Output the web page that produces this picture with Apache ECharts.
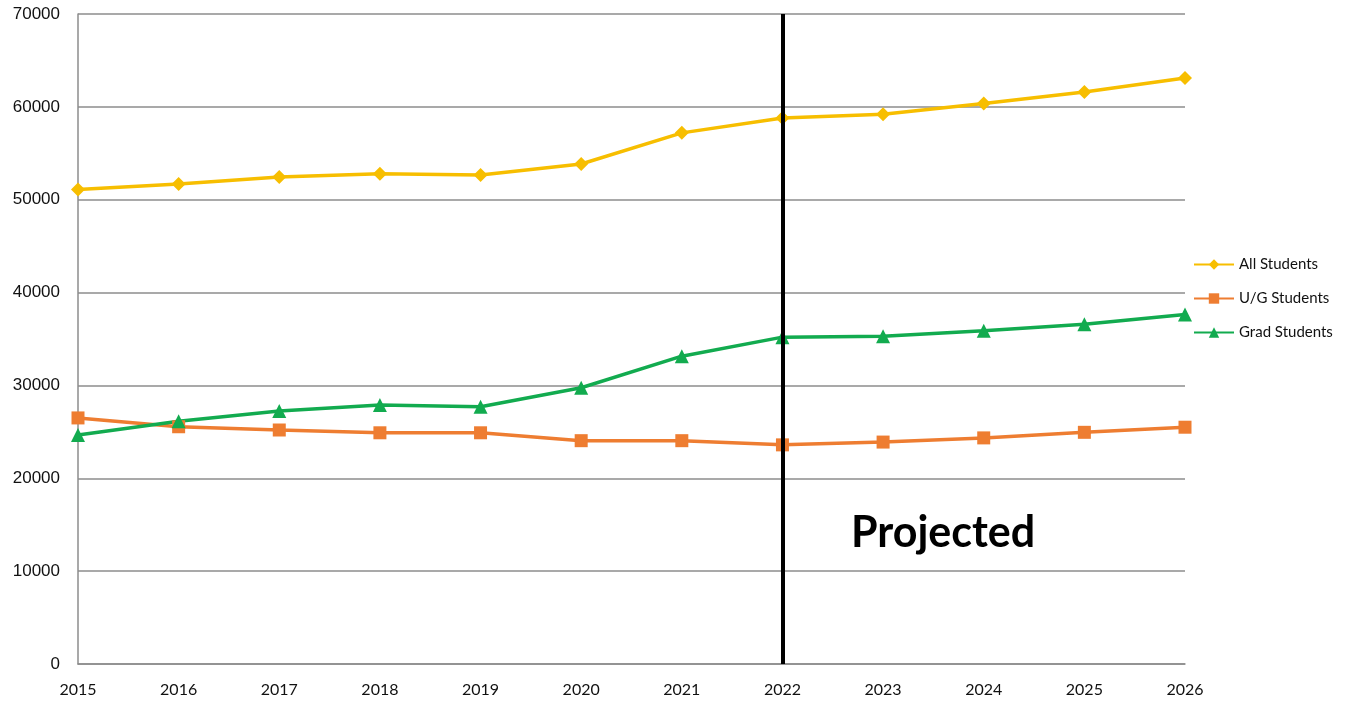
<!DOCTYPE html>
<html>
<head>
<meta charset="utf-8">
<script src="https://cdn.jsdelivr.net/npm/echarts@6/dist/echarts.min.js"></script>
<style>html,body{margin:0;padding:0;background:#fff;}#c{width:1356px;height:702px;}</style>
</head>
<body>
<div id="c"></div>
<script>
var years = ['2015','2016','2017','2018','2019','2020','2021','2022','2023','2024','2025','2026'];
var allStudents = [51100, 51700, 52450, 52800, 52650, 53850, 57200, 58800, 59200, 60350, 61600, 63100];
var ugStudents = [26500, 25550, 25200, 24900, 24900, 24050, 24050, 23600, 23900, 24350, 24950, 25500];
var gradStudents = [24650, 26150, 27250, 27900, 27700, 29750, 33150, 35200, 35300, 35900, 36600, 37650];
var projectedYear = '2022';
var projectedLabel = 'Projected';

var chart = echarts.init(document.getElementById('c'));
var lineW = 3.5;
chart.setOption({
  animation: false,
  backgroundColor: '#fff',
  grid: {left: 78, right: 171, top: 14, bottom: 38},
  legend: {
    orient: 'vertical', left: 1188, top: 252, itemGap: 19, itemWidth: 40, itemHeight: 13,
    textStyle: {fontFamily: 'Lato', fontSize: 15, color: '#111'},
    data: ['All Students', 'U/G Students', 'Grad Students']
  },
  xAxis: {
    type: 'category', data: years, boundaryGap: false,
    axisLine: {lineStyle: {color: '#8c8c8c', width: 1.5}},
    axisTick: {show: false},
    axisLabel: {fontFamily: 'Lato', fontSize: 16, color: '#111', margin: 18, interval: 0}
  },
  yAxis: {
    type: 'value', min: 0, max: 70000, interval: 10000,
    axisLine: {show: true, lineStyle: {color: '#8c8c8c', width: 1.5}},
    axisTick: {show: false},
    axisLabel: {fontFamily: 'Liberation Sans', fontSize: 17, color: '#111', margin: 18,
      formatter: function (v) { return String(v); }},
    splitLine: {lineStyle: {color: '#8c8c8c', width: 1.5}}
  },
  series: [
    {name: 'All Students', type: 'line', data: allStudents, color: '#F7BE00',
     symbol: 'diamond', symbolSize: 14, lineStyle: {width: lineW},
     markLine: {silent: true, symbol: 'none', label: {show: false},
       lineStyle: {color: '#000', width: 4, type: 'solid'},
       data: [{xAxis: projectedYear}]}},
    {name: 'U/G Students', type: 'line', data: ugStudents, color: '#EE7D31',
     symbol: 'rect', symbolSize: 13, lineStyle: {width: lineW}},
    {name: 'Grad Students', type: 'line', data: gradStudents, color: '#12AB4F',
     symbol: 'triangle', symbolSize: 14, lineStyle: {width: lineW}}
  ],
  graphic: [{
    type: 'text', left: 851, top: 512,
    style: {text: projectedLabel, font: 'bold 43px Lato', fill: '#000'}
  }]
});
</script>
</body>
</html>
